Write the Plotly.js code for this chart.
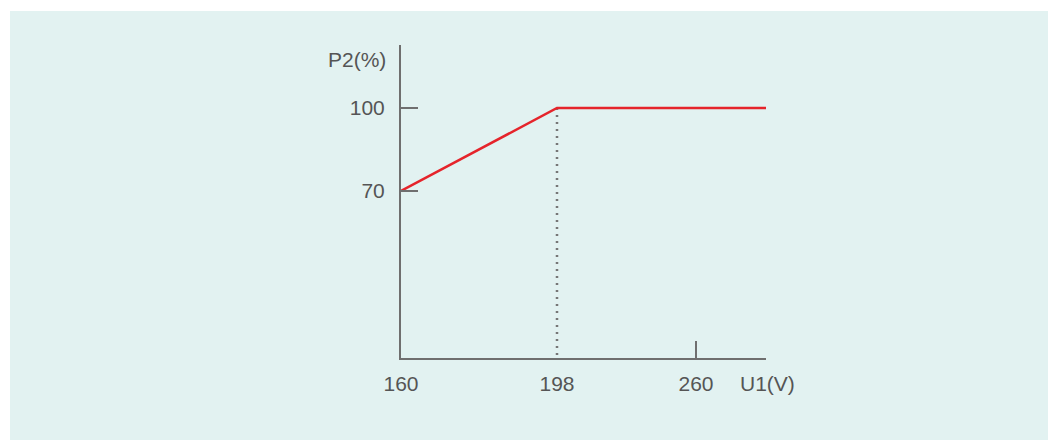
<!DOCTYPE html>
<html><head><meta charset="utf-8">
<script src="https://cdn.plot.ly/plotly-3.0.1.min.js"></script>
<style>
html,body{margin:0;padding:0;background:#fff;width:1060px;height:447px;overflow:hidden}
#chart{position:absolute;left:10px;top:11px;width:1038px;height:429px}
</style></head><body>
<div id="chart"></div>
<script>
// Data (schematic P2 vs U1 characteristic)
const u1 = [160, 198, 280];          // input voltage U1 (V); last point = end of axis
const p2 = [70, 100, 100];           // output power P2 (%)
const u1Ticks = [160, 198, 260];
const p2Ticks = [70, 100];
const xTitle = 'U1(V)';
const yTitle = 'P2(%)';

// The reference x axis is schematic (not proportional): piecewise scale
const scaleV = [160, 198, 260, 280];
const scaleP = [0, 156, 295, 365];
function sx(v){
  for(let i=0;i<scaleV.length-1;i++){
    if(v<=scaleV[i+1]||i===scaleV.length-2){
      const t=(v-scaleV[i])/(scaleV[i+1]-scaleV[i]);
      return scaleP[i]+t*(scaleP[i+1]-scaleP[i]);
    }
  }
}
const xRange=[sx(scaleV[0]), sx(scaleV[scaleV.length-1])];
const yRange=[9.64, 122.77];

const axisColor='#6f6f6f', textColor='#555555';
const font={family:'"Liberation Sans", Arial, sans-serif', size:21, color:textColor};

const traces=[
  {x:[sx(u1[1]),sx(u1[1])], y:[p2[1], yRange[0]], mode:'lines',
   line:{color:'#767676', width:2.5, dash:'2px,5px'}, hoverinfo:'skip', showlegend:false},
  {x:u1.map(sx), y:p2, mode:'lines', line:{color:'#e5242b', width:2.5},
   showlegend:false, hoverinfo:'skip'},
  {x:[sx(u1Ticks[2])], y:[yRange[0]], xaxis:'x2', mode:'markers',
   marker:{opacity:0}, showlegend:false, hoverinfo:'skip'}
];

const layout={
  width:1038, height:429,
  paper_bgcolor:'#e2f2f1', plot_bgcolor:'rgba(0,0,0,0)',
  margin:{l:391, r:282, t:34, b:82},
  font:font,
  xaxis:{range:xRange, showgrid:false, zeroline:false, showline:true,
    linecolor:axisColor, linewidth:2, ticks:'',
    tickmode:'array', tickvals:u1Ticks.map(sx), ticktext:u1Ticks.map(String),
    ticklabelstandoff:6, tickfont:font, fixedrange:true},
  xaxis2:{range:xRange, overlaying:'x', anchor:'y', side:'bottom',
    showgrid:false, zeroline:false, showline:false, showticklabels:false,
    ticks:'inside', ticklen:17, tickwidth:2, tickcolor:axisColor,
    tickmode:'array', tickvals:[sx(u1Ticks[2])]},
  yaxis:{range:yRange, showgrid:false, zeroline:false, showline:true,
    linecolor:axisColor, linewidth:2, ticks:'inside', ticklen:17, tickwidth:2,
    tickcolor:axisColor, tickmode:'array', tickvals:p2Ticks,
    ticktext:p2Ticks.map(String), ticklabelstandoff:10, tickfont:font, fixedrange:true},
  annotations:[
    {text:yTitle, xref:'paper', yref:'paper', x:0, y:1, xanchor:'right', yanchor:'middle',
     xshift:-13, yshift:-14, showarrow:false, font:font},
    {text:xTitle, xref:'paper', yref:'paper', x:1, y:0, xanchor:'center', yanchor:'middle',
     xshift:1, yshift:-25, showarrow:false, font:font}
  ]
};
Plotly.newPlot('chart', traces, layout, {displayModeBar:false, staticPlot:true});
</script></body></html>
